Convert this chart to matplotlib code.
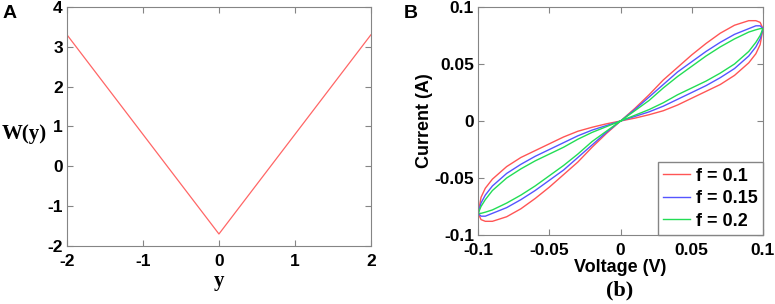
import matplotlib
matplotlib.use('Agg')
import matplotlib.pyplot as plt
import numpy as np

plt.rcParams['axes.unicode_minus'] = False

# panel A: W(y)
y_vals = [-2, 0, 2]
w_vals = [3.3, -1.7, 3.3]

# panel B: pinched loops, first quadrant (odd symmetric)
v_grid = [0, 0.01, 0.02, 0.03, 0.04, 0.05, 0.06, 0.07, 0.08, 0.09, 0.095, 0.098, 0.1]
red_up = [0, 0.011, 0.023, 0.036, 0.047, 0.058, 0.068, 0.077, 0.084, 0.088, 0.088, 0.0865, 0.081]
red_lo = [0, 0.0025, 0.0055, 0.009, 0.014, 0.020, 0.026, 0.032, 0.040, 0.051, 0.059, 0.067, 0.081]
blue_up = [0, 0.010, 0.021, 0.032, 0.043, 0.052, 0.061, 0.069, 0.076, 0.081, 0.0835, 0.0835, 0.081]
blue_lo = [0, 0.004, 0.008, 0.013, 0.019, 0.025, 0.031, 0.038, 0.046, 0.057, 0.065, 0.072, 0.081]
green_up = [0, 0.009, 0.018, 0.029, 0.039, 0.048, 0.057, 0.065, 0.072, 0.078, 0.080, 0.081, 0.081]
green_lo = [0, 0.005, 0.010, 0.016, 0.023, 0.029, 0.035, 0.042, 0.050, 0.061, 0.069, 0.075, 0.081]
labels = ['f = 0.1', 'f = 0.15', 'f = 0.2']
colors = ['#ff5555', '#5555ff', '#22dd55']

sans = 'Liberation Sans'
serif = 'Liberation Serif'
grey = '#858585'


def loop(up, lo):
    v = np.array(v_grid)
    up = np.array(up)
    lo = np.array(lo)
    vx = np.concatenate([v, v[::-1], -v, -v[::-1]])
    ix = np.concatenate([up, lo[::-1], -up, -lo[::-1]])
    return vx, ix


def style(ax):
    for s in ax.spines.values():
        s.set_color(grey)
    ax.tick_params(direction='in', top=True, right=True, color=grey,
                   length=4, labelsize=12.5, pad=3)
    ax.tick_params(axis='x', pad=6)
    for t in ax.get_xticklabels() + ax.get_yticklabels():
        t.set_fontfamily(sans)
        t.set_fontweight('bold')


fig = plt.figure(figsize=(7.75, 3.04), dpi=100)

ax1 = fig.add_axes([0.0865, 0.191, 0.392, 0.786])
ax1.plot(y_vals, w_vals, color='#ff6666', lw=0.9)
ax1.set_xlim(-2, 2)
ax1.set_ylim(-2, 4)
ax1.set_xticks([-2, -1, 0, 1, 2])
ax1.set_yticks([-2, -1, 0, 1, 2, 3, 4])
style(ax1)

ax2 = fig.add_axes([0.617, 0.227, 0.3675, 0.75])
for up, lo, c, lab in zip([red_up, blue_up, green_up], [red_lo, blue_lo, green_lo],
                          colors, labels):
    vx, ix = loop(up, lo)
    ax2.plot(vx, ix, color=c, lw=1.0, label=lab)
ax2.set_xlim(-0.1, 0.1)
ax2.set_ylim(-0.1, 0.1)
ticks = [-0.1, -0.05, 0, 0.05, 0.1]
tl = ['-0.1', '-0.05', '0', '0.05', '0.1']
ax2.set_xticks(ticks)
ax2.set_xticklabels(tl)
ax2.set_yticks(ticks)
ax2.set_yticklabels(tl)
style(ax2)
leg = ax2.legend(loc='lower right', fancybox=False, framealpha=1,
                 prop={'family': sans, 'weight': 'bold', 'size': 13},
                 borderaxespad=0, handlelength=1.5, handletextpad=0.3,
                 labelspacing=0.3, borderpad=0.3)
leg.get_frame().set_edgecolor(grey)

fig.text(3 / 775, 1 - 13 / 304, 'A', family=sans, weight='bold', fontsize=14,
         va='center', ha='left')
fig.text(404 / 775, 1 - 13 / 304, 'B', family=sans, weight='bold', fontsize=14,
         va='center', ha='left')
fig.text(2 / 775, 1 - 134 / 304, 'W(y)', family=serif, weight='bold', fontsize=15,
         va='center', ha='left')
fig.text(219 / 775, 1 - 281 / 304, 'y', family=serif, weight='bold', fontsize=15,
         va='center', ha='center')
fig.text(620 / 775, 1 - 268 / 304, 'Voltage (V)', family=sans, weight='bold',
         fontsize=13, va='center', ha='center')
fig.text(425 / 775, 1 - 121 / 304, 'Current (A)', family=sans, weight='bold',
         fontsize=13, va='center', ha='center', rotation=90)
fig.text(620 / 775, 1 - 290 / 304, '(b)', family=serif, weight='bold',
         fontsize=16, va='center', ha='center')

fig.savefig('out.png', dpi=100)
